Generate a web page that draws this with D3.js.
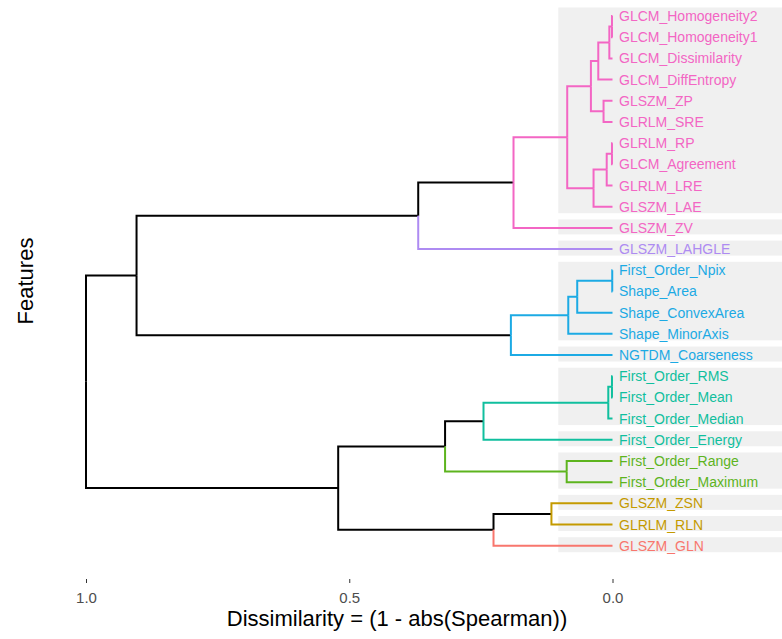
<!DOCTYPE html>
<html lang="en">
<head>
<meta charset="utf-8">
<title>Feature dendrogram</title>
<script src="https://cdn.jsdelivr.net/npm/d3@7/dist/d3.min.js"></script>
<style>
  body { margin: 0; background: #fff; }
  svg { display: block; font-family: "Liberation Sans", Arial, sans-serif; }
</style>
</head>
<body>
<svg width="782" height="639"></svg>
<script>
// leaves, top to bottom
var features = [
  "GLCM_Homogeneity2", "GLCM_Homogeneity1", "GLCM_Dissimilarity", "GLCM_DiffEntropy",
  "GLSZM_ZP", "GLRLM_SRE", "GLRLM_RP", "GLCM_Agreement", "GLRLM_LRE", "GLSZM_LAE",
  "GLSZM_ZV", "GLSZM_LAHGLE", "First_Order_Npix", "Shape_Area", "Shape_ConvexArea",
  "Shape_MinorAxis", "NGTDM_Coarseness", "First_Order_RMS", "First_Order_Mean",
  "First_Order_Median", "First_Order_Energy", "First_Order_Range", "First_Order_Maximum",
  "GLSZM_ZSN", "GLRLM_RLN", "GLSZM_GLN"
];
var featureCluster = [6,6,6,6,6,6,6,6,6,6,6,5,4,4,4,4,4,3,3,3,3,2,2,1,1,0];

// hclust style merges: negative = leaf number, positive = earlier merge
var mergeLeft   = [-13, -1, -7, -18, 2, 4, 3, -5, 5, 7, 9, 1, 12, 11, -22, -24, 14, 13, 16, 6, 20, 17, 21, 22, 24];
var mergeRight  = [-14, -2, -8, -19, -3, -20, -9, -6, -4, -10, 8, -15, -16, 10, -23, -25, -11, -17, -26, -21, 15, -12, 19, 18, 23];
var mergeHeight = [0.0005, 0.001, 0.001, 0.001, 0.006, 0.008, 0.011, 0.017, 0.027, 0.036, 0.041, 0.067,
                   0.084, 0.086, 0.087, 0.116, 0.188, 0.193, 0.226, 0.245, 0.318, 0.369, 0.521, 0.904, 1.0];

var xTicks = [1.0, 0.5, 0.0];

var clusterColors = ["#F8766D", "#C49A00", "#5DB41E", "#10BF9E", "#1CAAE4", "#AE8BF2", "#F366C4"];
var plainRoots = [16, 17, 18, 20];   // cluster roots whose incoming branch stays black
var rectCut = 0.103;

var svg = d3.select("svg");

var xScale = d3.scaleLinear().domain([1, 0]).range([86, 612.5]);
var yScale = d3.scalePoint().domain(features).range([16, 545.7]);

function node(ref) {
  if (ref < 0) {
    var i = -ref - 1;
    return { name: features[i], h: 0, cluster: featureCluster[i] };
  }
  var a = node(mergeLeft[ref - 1]), b = node(mergeRight[ref - 1]);
  return {
    id: ref, h: mergeHeight[ref - 1], children: [a, b],
    cluster: (a.cluster != null && a.cluster === b.cluster) ? a.cluster : null
  };
}

var root = d3.hierarchy(node(mergeHeight.length));
root.eachAfter(function(d) {
  d.y = d.children ? d3.mean(d.children, function(c) { return c.y; }) : yScale(d.data.name);
});

// grey bands: groups cut at rectCut
function bands(d) {
  if (d.data.h < rectCut) return [d.leaves()];
  return d.children.reduce(function(acc, c) { return acc.concat(bands(c)); }, []);
}

svg.append("g").selectAll("rect")
  .data(bands(root))
  .enter().append("rect")
  .attr("x", xScale(rectCut))
  .attr("width", 782 - xScale(rectCut))
  .attr("y", function(g) { return g[0].y - 8.5; })
  .attr("height", function(g) { return g[g.length - 1].y - g[0].y + 15; })
  .attr("fill", "#F0F0F0");

function edgeColor(t) {
  var c = t.data.cluster;
  if (c == null || plainRoots.indexOf(t.data.id) >= 0) return "#000";
  return clusterColors[c];
}

svg.append("g").selectAll("path")
  .data(root.links())
  .enter().append("path")
  .attr("d", function(l) {
    return "M" + xScale(l.source.data.h) + "," + l.source.y +
           "V" + l.target.y + "H" + xScale(l.target.data.h);
  })
  .attr("fill", "none")
  .attr("stroke", function(l) { return edgeColor(l.target); })
  .attr("stroke-width", 2);

svg.append("g").selectAll("text")
  .data(root.leaves())
  .enter().append("text")
  .attr("x", 619)
  .attr("y", function(d) { return d.y; })
  .attr("dy", "0.36em")
  .attr("font-size", "14px")
  .attr("fill", function(d) { return clusterColors[d.data.cluster]; })
  .text(function(d) { return d.data.name; });

var axis = svg.append("g")
  .attr("transform", "translate(0,579)")
  .call(d3.axisBottom(xScale).tickValues(xTicks).tickFormat(d3.format(".1f")).tickSize(4).tickPadding(9));
axis.select(".domain").remove();
axis.selectAll("line").attr("stroke", "#333");
axis.selectAll("text")
  .attr("fill", "#4D4D4D")
  .attr("font-size", "15px")
  .attr("font-family", "'Liberation Sans', Arial, sans-serif");

svg.append("text")
  .attr("x", 397)
  .attr("y", 626)
  .attr("text-anchor", "middle")
  .attr("font-size", "22px")
  .text("Dissimilarity = (1 - abs(Spearman))");

svg.append("text")
  .attr("transform", "translate(33,281) rotate(-90)")
  .attr("text-anchor", "middle")
  .attr("font-size", "22px")
  .text("Features");
</script>
</body>
</html>
